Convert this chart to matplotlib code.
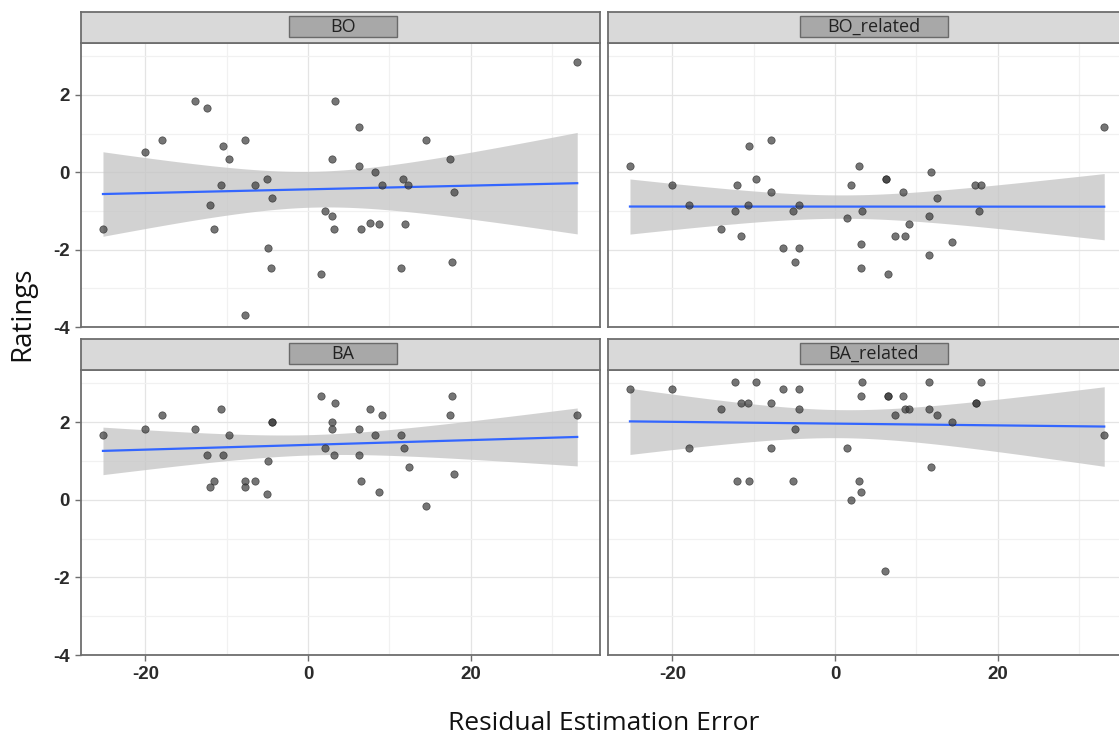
import numpy as np
import matplotlib
matplotlib.use('Agg')
import matplotlib.pyplot as plt
from matplotlib.patches import Rectangle

plt.rcParams['axes.unicode_minus'] = False

# facet names
panels = ['BO', 'BO_related', 'BA', 'BA_related']

# residual estimation error (x) and ratings (y)
bo_x = [33.1, -13.9, -12.4, 3.3, 6.3, -17.9, -7.7, 14.5, -20.0, -10.5, -9.7, 3.0, 17.4,
        6.3, 8.3, -5.0, 11.7, -10.7, -6.5, 9.1, 12.3, 18.0, -4.4, -12.1, 2.1, 3.0,
        -25.2, -11.6, 3.2, 6.5, 7.6, 8.7, 11.9, -4.9, -4.5, 1.6, 11.4, 17.7, -7.7]
bo_y = [2.85, 1.85, 1.67, 1.85, 1.17, 0.83, 0.83, 0.83, 0.51, 0.67, 0.33, 0.33, 0.33,
        0.16, 0.0, -0.17, -0.17, -0.33, -0.33, -0.33, -0.33, -0.51, -0.67, -0.84, -1.0, -1.14,
        -1.48, -1.48, -1.48, -1.48, -1.30, -1.34, -1.34, -1.97, -2.48, -2.64, -2.48, -2.32, -3.69]

bor_x = [-25.2, 33.1, -10.6, -7.9, 3.0, 11.8, -20.0, -12.1, -9.7, -7.9, 2.0, 6.3, 6.3,
         8.4, 12.5, 17.2, 18.0, -17.9, -10.7, -4.4, -12.3, -5.1, 3.3, 17.7, 1.5, 11.6,
         9.1, -14.0, -11.5, 7.4, 8.6, 14.4, -6.4, -4.4, 3.2, -4.9, 11.5, 3.2, 6.5]
bor_y = [0.17, 1.17, 0.67, 0.83, 0.17, 0.0, -0.33, -0.33, -0.17, -0.51, -0.33, -0.17, -0.17,
         -0.51, -0.67, -0.33, -0.33, -0.84, -0.84, -0.84, -1.0, -1.0, -1.0, -1.0, -1.18, -1.14,
         -1.34, -1.48, -1.65, -1.65, -1.65, -1.81, -1.97, -1.97, -1.85, -2.32, -2.15, -2.48, -2.64]

ba_x = [1.6, 17.7, 3.3, -10.7, 7.6, -17.9, 9.1, 17.4, 33.1, -4.4, -4.4, 3.0, -20.0,
        -13.9, 3.0, 6.3, -25.2, -9.7, 8.3, 11.4, 2.1, 11.8, -12.4, -10.5, 3.2, 6.3,
        -4.9, 12.4, 18.0, -11.6, -7.7, -6.5, 6.5, -12.1, -7.7, -5.0, 8.7, 14.5]
ba_y = [2.67, 2.67, 2.50, 2.34, 2.34, 2.17, 2.17, 2.17, 2.17, 2.0, 2.0, 2.0, 1.83,
        1.83, 1.83, 1.83, 1.67, 1.67, 1.67, 1.67, 1.33, 1.33, 1.16, 1.16, 1.16, 1.16,
        1.0, 0.83, 0.66, 0.49, 0.49, 0.49, 0.49, 0.32, 0.32, 0.15, 0.19, -0.15]

bar_x = [-25.2, -20.0, -12.3, -9.7, -6.4, -4.4, 3.3, 11.5, 18.0, -11.5, -10.7, -7.9, 3.2,
         6.5, 6.5, 8.4, 17.3, 17.3, -14.0, -4.4, 8.6, 9.1, 11.6, 7.4, 12.5, 14.4,
         -4.9, 33.1, -17.9, -7.9, 1.5, 11.8, -12.1, -10.6, -5.1, 3.0, 3.2, 2.0, 6.2]
bar_y = [2.85, 2.85, 3.02, 3.02, 2.85, 2.85, 3.02, 3.02, 3.02, 2.50, 2.50, 2.50, 2.67,
         2.67, 2.67, 2.67, 2.50, 2.50, 2.34, 2.34, 2.34, 2.34, 2.34, 2.17, 2.17, 2.0,
         1.83, 1.67, 1.33, 1.33, 1.33, 0.83, 0.49, 0.49, 0.49, 0.49, 0.19, -0.02, -1.83]

xs = [bo_x, bor_x, ba_x, bar_x]
ys = [bo_y, bor_y, ba_y, bar_y]


def lm_band(x, y, grid):
    # linear fit with 95% confidence band, like geom_smooth(method='lm')
    x = np.asarray(x)
    y = np.asarray(y)
    n = len(x)
    b, a = np.polyfit(x, y, 1)
    fit = a + b * grid
    resid = y - (a + b * x)
    s = np.sqrt(np.sum(resid ** 2) / (n - 2))
    se = s * np.sqrt(1.0 / n + (grid - x.mean()) ** 2 / np.sum((x - x.mean()) ** 2))
    t = 2.03
    return fit, fit - t * se, fit + t * se


fig = plt.figure(figsize=(11.19, 7.35), dpi=100)
W, H = 1119.0, 735.0

# panel boxes in pixels
lefts = [81, 608]
tops = [43, 370]
bottoms = [327, 655]
pw = 519
strip_h = 31
# label box inside strip: (x0, x1) fractions
box_x = [(0.40, 0.608), (0.37, 0.655)]

for k, name in enumerate(panels):
    r, c = divmod(k, 2)
    l = lefts[c]
    t = tops[r]
    b = bottoms[r]
    ax = fig.add_axes([l / W, 1 - b / H, pw / W, (b - t) / H])
    ax.set_xlim(-27.9, 35.9)
    ax.set_ylim(-4, 3.34)
    ax.set_xticks([-20, 0, 20])
    ax.set_xticks([-10, 10, 30], minor=True)
    ax.set_yticks([-4, -2, 0, 2])
    ax.set_yticks([-3, -1, 1, 3], minor=True)
    ax.grid(True, which='major', color='#e4e4e4', lw=0.9)
    ax.grid(True, which='minor', color='#f1f1f1', lw=0.9)
    ax.set_axisbelow(True)
    for sp in ax.spines.values():
        sp.set_color('#6e6e6e')
        sp.set_linewidth(1.3)
    ax.tick_params(which='minor', length=0)
    ax.tick_params(which='major', length=4, color='#6e6e6e', width=1,
                   labelsize=13.5, labelcolor='#2b2b2b', pad=4)
    for lab in ax.get_xticklabels() + ax.get_yticklabels():
        lab.set_family('Liberation Sans')
        lab.set_fontweight('bold')
    if c == 1:
        ax.tick_params(labelleft=False, left=False)
    if r == 0:
        ax.tick_params(labelbottom=False, bottom=False)

    x = np.array(xs[k])
    y = np.array(ys[k])
    grid = np.linspace(x.min(), x.max(), 80)
    fit, lo, hi = lm_band(x, y, grid)
    ax.fill_between(grid, lo, hi, color='#c4c4c4', alpha=0.75, lw=0, zorder=2)
    ax.plot(grid, fit, color='#3366ff', lw=1.6, zorder=3)
    ax.scatter(x, y, s=28, color='#3a3a3a', alpha=0.7, edgecolors='#222222',
               linewidths=0.5, zorder=4)

    # strip on top
    sax = fig.add_axes([l / W, 1 - t / H, pw / W, strip_h / H])
    sax.set_xlim(0, 1)
    sax.set_ylim(0, 1)
    sax.set_facecolor('#d9d9d9')
    sax.set_xticks([])
    sax.set_yticks([])
    for sp in sax.spines.values():
        sp.set_color('#6e6e6e')
        sp.set_linewidth(1.3)
    x0, x1 = box_x[c]
    sax.add_patch(Rectangle((x0, 0.2), x1 - x0, 0.66, facecolor='#a8a8a8',
                            edgecolor='#6a6a6a', lw=1.0))
    sax.text((x0 + x1) / 2, 0.52, name, ha='center', va='center', fontsize=13,
             family='Open Sans', color='#222222')

fig.text(22 / W, 1 - 314 / H, 'Ratings', rotation=90, ha='center', va='center',
         fontsize=20, family='Open Sans', color='#111111')
fig.text(604 / W, 1 - 730 / H, 'Residual Estimation Error', ha='center', va='baseline',
         fontsize=19, family='Open Sans', color='#111111')

fig.savefig('out.png', dpi=100)
